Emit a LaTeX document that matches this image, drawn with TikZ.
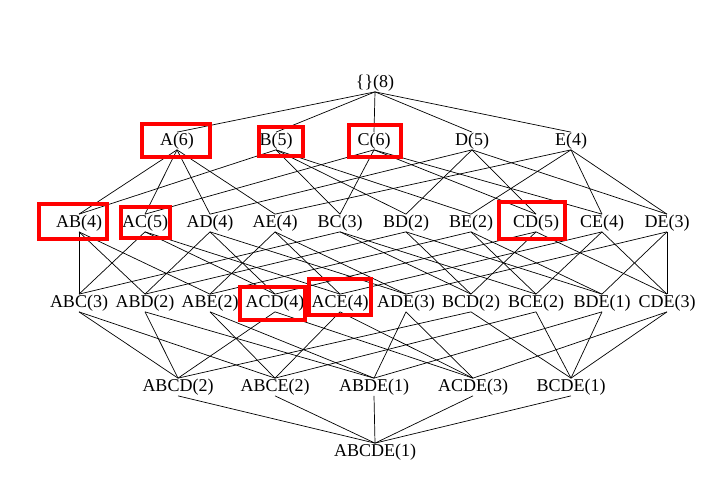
\documentclass[tikz,border=0pt]{standalone}
\usepackage{fontspec}
\setmainfont{Liberation Serif}
\begin{document}
\begin{tikzpicture}[x=1pt,y=-1pt,
  lat/.style={inner sep=0.5pt, font=\fontsize{18}{21}\selectfont},
  edge/.style={line width=0.7pt, black},
  redbox/.style={draw=red, line width=3.5pt}]
\useasboundingbox (0,0) rectangle (717,478);
% level 0
\node[lat] (n) at (375,83) {\{\}(8)};
% level 1
\node[lat] (A) at (177,141) {A(6)};
\node[lat] (B) at (276,141) {B(5)};
\node[lat] (C) at (374,141) {C(6)};
\node[lat] (D) at (472,141) {D(5)};
\node[lat] (E) at (571,141) {E(4)};
% level 2
\node[lat] (AB) at (79,223) {AB(4)};
\node[lat] (AC) at (145,223) {AC(5)};
\node[lat] (AD) at (210,223) {AD(4)};
\node[lat] (AE) at (275,223) {AE(4)};
\node[lat] (BC) at (340,223) {BC(3)};
\node[lat] (BD) at (406,223) {BD(2)};
\node[lat] (BE) at (471,223) {BE(2)};
\node[lat] (CD) at (536,223) {CD(5)};
\node[lat] (CE) at (602,223) {CE(4)};
\node[lat] (DE) at (667,223) {DE(3)};
% level 3
\node[lat] (ABC) at (79,303) {ABC(3)};
\node[lat] (ABD) at (145,303) {ABD(2)};
\node[lat] (ABE) at (210,303) {ABE(2)};
\node[lat] (ACD) at (275,303) {ACD(4)};
\node[lat] (ACE) at (340,303) {ACE(4)};
\node[lat] (ADE) at (406,303) {ADE(3)};
\node[lat] (BCD) at (471,303) {BCD(2)};
\node[lat] (BCE) at (536,303) {BCE(2)};
\node[lat] (BDE) at (602,303) {BDE(1)};
\node[lat] (CDE) at (667,303) {CDE(3)};
% level 4
\node[lat] (ABCD) at (178,387) {ABCD(2)};
\node[lat] (ABCE) at (275,387) {ABCE(2)};
\node[lat] (ABDE) at (374,387) {ABDE(1)};
\node[lat] (ACDE) at (473,387) {ACDE(3)};
\node[lat] (BCDE) at (571,387) {BCDE(1)};
% level 5
\node[lat] (ABCDE) at (375,452) {ABCDE(1)};
% edges
\foreach \a/\b in {n/A,n/B,n/C,n/D,n/E,
  A/AB,A/AC,A/AD,A/AE, B/AB,B/BC,B/BD,B/BE, C/AC,C/BC,C/CD,C/CE,
  D/AD,D/BD,D/CD,D/DE, E/AE,E/BE,E/CE,E/DE,
  AB/ABC,AB/ABD,AB/ABE, AC/ABC,AC/ACD,AC/ACE, AD/ABD,AD/ACD,AD/ADE,
  AE/ABE,AE/ACE,AE/ADE, BC/ABC,BC/BCD,BC/BCE, BD/ABD,BD/BCD,BD/BDE,
  BE/ABE,BE/BCE,BE/BDE, CD/ACD,CD/BCD,CD/CDE, CE/ACE,CE/BCE,CE/CDE,
  DE/ADE,DE/BDE,DE/CDE,
  ABC/ABCD,ABC/ABCE, ABD/ABCD,ABD/ABDE, ABE/ABCE,ABE/ABDE,
  ACD/ABCD,ACD/ACDE, ACE/ABCE,ACE/ACDE, ADE/ABDE,ADE/ACDE,
  BCD/ABCD,BCD/BCDE, BCE/ABCE,BCE/BCDE, BDE/ABDE,BDE/BCDE,
  CDE/ACDE,CDE/BCDE,
  ABCD/ABCDE,ABCE/ABCDE,ABDE/ABCDE,ACDE/ABCDE,BCDE/ABCDE}
  \draw[edge] (\a.south) -- (\b.north);
% red highlight boxes
\draw[redbox] (142,124) rectangle (210,157);
\draw[redbox] (259,127) rectangle (303,156);
\draw[redbox] (349,125) rectangle (401,157);
\draw[redbox] (39,204) rectangle (107,239);
\draw[redbox] (121,207) rectangle (170,238);
\draw[redbox] (499,202) rectangle (565,239);
\draw[redbox] (240,287) rectangle (305,320);
\draw[redbox] (309,279) rectangle (371,315);
\end{tikzpicture}
\end{document}
